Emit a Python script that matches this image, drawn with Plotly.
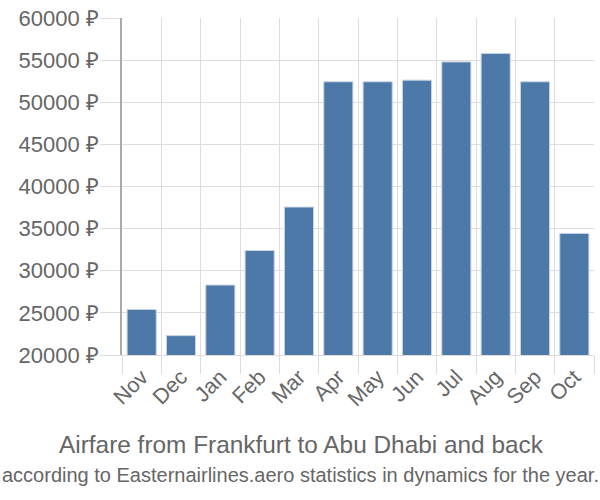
import plotly.graph_objects as go

months = ["Nov", "Dec", "Jan", "Feb", "Mar", "Apr", "May", "Jun", "Jul", "Aug", "Sep", "Oct"]
prices = [25400, 22300, 28300, 32400, 37560, 52430, 52430, 52620, 54790, 55800, 52430, 34430]

title_text = "Airfare from Frankfurt to Abu Dhabi and back"
subtitle_text = "according to Easternairlines.aero statistics in dynamics for the year."

fig = go.Figure()
fig.add_trace(go.Bar(
    x=months, y=prices,
    marker=dict(color="#4d79a8", line=dict(color="#c9d4e3", width=1)),
    width=0.74,
))

font_family = "Liberation Sans, Arial, sans-serif"
L, R, T, B = 122, 6, 15, 145
W, H = 600, 500
fig.update_layout(
    width=W, height=H,
    margin=dict(l=L, r=R, t=T, b=B),
    paper_bgcolor="white", plot_bgcolor="white",
    font=dict(family=font_family, color="#666666"),
    showlegend=False,
    xaxis=dict(
        type="category",
        tickson="boundaries",
        ticks="outside", ticklen=18, tickcolor="#dddddd", tickwidth=1,
        showgrid=True, gridcolor="#dddddd", gridwidth=1,
        tickangle=-45,
        tickfont=dict(size=21.5, color="#666666"),
        showline=True, linecolor="#dddddd", linewidth=1,
    ),
    yaxis=dict(
        range=[20000, 60000],
        dtick=5000,
        tickformat="d",
        ticksuffix=" ₽",
        ticks="outside", ticklen=20, tickcolor="#dddddd", tickwidth=1,
        ticklabelstandoff=-3,
        showgrid=True, gridcolor="#dddddd", gridwidth=1,
        tickfont=dict(size=22, color="#666666"),
        showline=True, linecolor="#aaaaaa", linewidth=1.5,
        zeroline=False,
    ),
)

plot_w = W - L - R
plot_h = H - T - B
def px_x(x):
    return (x - L) / plot_w
def px_y(y):
    return 1 - (y - T) / plot_h

fig.add_annotation(text=title_text, x=px_x(301), xref="paper", xanchor="center",
                   y=px_y(445), yref="paper", yanchor="middle", showarrow=False,
                   font=dict(size=24.4, color="#666666", family=font_family))
fig.add_annotation(text=subtitle_text, x=px_x(300), xref="paper", xanchor="center",
                   y=px_y(476), yref="paper", yanchor="middle", showarrow=False,
                   font=dict(size=20, color="#666666", family=font_family))

fig.write_html("out.html")
